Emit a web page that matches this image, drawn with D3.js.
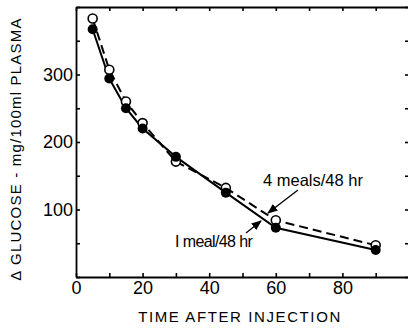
<!DOCTYPE html>
<html>
<head>
<meta charset="utf-8">
<script src="https://cdn.jsdelivr.net/npm/d3@7"></script>
<style>
	html, body { margin: 0; padding: 0; background: #fff; }
	svg { display: block; font-family: "Liberation Sans", Arial, sans-serif; }
</style>
</head>
<body>
<svg id="chart" width="408" height="328"></svg>
<script>

// minutes after injection
const times = [5, 10, 15, 20, 30, 45, 60, 90];
// 1 meal / 48 hr (filled circles, solid line)
const oneMeal = [367, 294, 250, 220, 178, 125, 73, 40];
// 4 meals / 48 hr (open circles, dashed line)
const fourMeals = [383, 307, 260, 228, 171, 132, 84, 47];

const xTicks = [0, 10, 20, 30, 40, 50, 60, 70, 80, 90, 100];
const xLabels = [0, 20, 40, 60, 80];
const yTicks = [0, 50, 100, 150, 200, 250, 300, 350, 400];
const yLabels = [100, 200, 300];

const svg = d3.select('#chart');

let x = d3.scaleLinear().domain([0, 100]).range([76, 409]);
let y = d3.scaleLinear().domain([0, 400]).range([277, 7]);

function styleAxis(g) {
	g.select('.domain').attr('stroke', '#000').attr('stroke-width', 1.8);
	g.selectAll('.tick line').attr('stroke', '#000').attr('stroke-width', 1.6);
	g.selectAll('.tick text').attr('fill', '#000').attr('font-size', 18);
}

// frame with inward ticks on all four sides
svg.append('g')
	.attr('transform', `translate(0,${y(0)})`)
	.call(d3.axisBottom(x).tickValues(xTicks).tickSizeInner(-4).tickSizeOuter(0).tickPadding(4)
		.tickFormat(d => xLabels.includes(d) ? d : ''))
	.call(styleAxis);

svg.append('g')
	.attr('transform', `translate(0,${y(400)})`)
	.call(d3.axisTop(x).tickValues(xTicks).tickSizeInner(-4).tickSizeOuter(0).tickFormat(''))
	.call(styleAxis);

svg.append('g')
	.attr('transform', `translate(${x(0)},0)`)
	.call(d3.axisLeft(y).tickValues(yTicks).tickSizeInner(-4).tickSizeOuter(0).tickPadding(3)
		.tickFormat(d => yLabels.includes(d) ? d : ''))
	.call(styleAxis);

svg.append('g')
	.attr('transform', `translate(${x(100)},0)`)
	.call(d3.axisRight(y).tickValues(yTicks).tickSizeInner(-4).tickSizeOuter(0).tickFormat(''))
	.call(styleAxis);

// axis titles
svg.append('text')
	.attr('x', 240).attr('y', 322)
	.attr('text-anchor', 'middle')
	.attr('font-size', 15)
	.attr('letter-spacing', 1.6)
	.text('TIME AFTER INJECTION');

svg.append('text')
	.attr('transform', 'translate(21,149) rotate(-90)')
	.attr('text-anchor', 'middle')
	.attr('font-size', 15)
	.attr('letter-spacing', 1.2)
	.text('\u0394 GLUCOSE - mg/100ml PLASMA');

// series
const line = d3.line().x(d => x(d[0])).y(d => y(d[1]));
const solidPts = times.map((t, i) => [t, oneMeal[i]]);
const dashPts = times.map((t, i) => [t, fourMeals[i]]);

svg.append('path').datum(dashPts)
	.attr('d', line).attr('fill', 'none').attr('stroke', '#000')
	.attr('stroke-width', 2).attr('stroke-dasharray', '9,5');

svg.append('path').datum(solidPts)
	.attr('d', line).attr('fill', 'none').attr('stroke', '#000')
	.attr('stroke-width', 2);

svg.selectAll('.open').data(dashPts).join('circle')
	.attr('cx', d => x(d[0])).attr('cy', d => y(d[1])).attr('r', 4.5)
	.attr('fill', '#fff').attr('stroke', '#000').attr('stroke-width', 1.6);

svg.selectAll('.filled').data(solidPts).join('circle')
	.attr('cx', d => x(d[0])).attr('cy', d => y(d[1])).attr('r', 5)
	.attr('fill', '#000');

// annotations with arrows
svg.append('defs').append('marker')
	.attr('id', 'head').attr('viewBox', '0 0 10 10')
	.attr('refX', 9).attr('refY', 5)
	.attr('markerWidth', 8).attr('markerHeight', 8)
	.attr('orient', 'auto')
	.append('path').attr('d', 'M0,1 L10,5 L0,9 Z').attr('fill', '#000');

svg.append('text')
	.attr('x', 263).attr('y', 186)
	.attr('font-size', 16.5)
	.text('4 meals/48 hr');

svg.append('line')
	.attr('x1', 298).attr('y1', 190).attr('x2', 268).attr('y2', 213)
	.attr('stroke', '#000').attr('stroke-width', 1.3).attr('marker-end', 'url(#head)');

svg.append('text')
	.attr('x', 175).attr('y', 247)
	.attr('font-size', 16)
	.attr('letter-spacing', -0.6)
	.text('I meal/48 hr');

svg.append('line')
	.attr('x1', 246).attr('y1', 233).attr('x2', 261).attr('y2', 221)
	.attr('stroke', '#000').attr('stroke-width', 1.3).attr('marker-end', 'url(#head)');

</script>
</body>
</html>
